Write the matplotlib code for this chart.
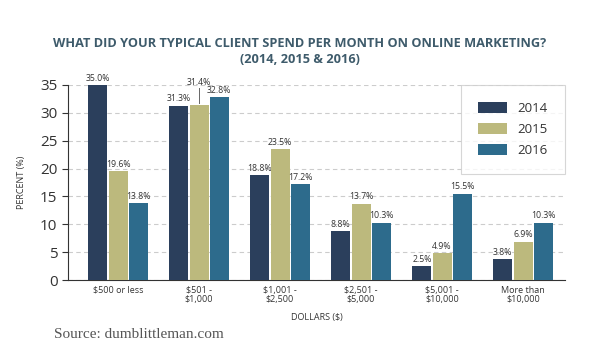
# Recreate: typical client monthly online marketing spend, 2014-2016

import numpy as np
import matplotlib.pyplot as plt

plt.rcParams['font.family'] = ['Open Sans', 'DejaVu Sans']

categories = ['$500 or less', '$501 -\n$1,000', '$1,001 -\n$2,500',
              '$2,501 -\n$5,000', '$5,001 -\n$10,000', 'More than\n$10,000']
years = ['2014', '2015', '2016']
v2014 = [35.0, 31.3, 18.8, 8.8, 2.5, 3.8]
v2015 = [19.6, 31.4, 23.5, 13.7, 4.9, 6.9]
v2016 = [13.8, 32.8, 17.2, 10.3, 15.5, 10.3]
colors = ['#2b3f5c', '#bcb97d', '#2d6b8c']

fig = plt.figure(figsize=(6, 3.6), dpi=100)
ax = fig.add_axes([0.113, 0.222, 0.829, 0.542])

x = np.arange(len(categories))
width = 0.235
step = 0.25
for i, (vals, yr, c) in enumerate(zip([v2014, v2015, v2016], years, colors)):
    pos = x + (i - 1) * step
    ax.bar(pos, vals, width, color=c, label=yr, zorder=3)
    for j, (p, v) in enumerate(zip(pos, vals)):
        if i == 1 and j == 1:
            # leader line for the crowded label
            ax.plot([p, p], [v + 0.3, v + 3.0], color='#666666', lw=0.7,
                    zorder=4, clip_on=False)
            ax.text(p, v + 3.2, f'{v:.1f}%', ha='center', va='bottom',
                    fontsize=6.3, color='#333333')
        else:
            ax.text(p, v + 0.4, f'{v:.1f}%', ha='center', va='bottom',
                    fontsize=6.3, color='#333333')

ax.set_ylim(0, 35)
ax.set_xlim(-0.62, 5.52)
ax.set_yticks(range(0, 36, 5))
ax.tick_params(axis='y', labelsize=11, colors='#333333', length=4, width=0.8)
ax.tick_params(axis='x', labelsize=6.5, colors='#333333', length=0, pad=4)
ax.set_xticks(x)
ax.set_xticklabels(categories, linespacing=1.1)
ax.yaxis.grid(True, linestyle=(0, (4, 3)), color='#cccccc', lw=0.8, zorder=0)
for s in ['top', 'right']:
    ax.spines[s].set_visible(False)
ax.spines['left'].set_color('#333333')
ax.spines['bottom'].set_color('#333333')
ax.set_ylabel('PERCENT (%)', fontsize=6.5, color='#333333', labelpad=10)
ax.set_xlabel('DOLLARS ($)', fontsize=6.5, color='#333333', labelpad=6)

leg = ax.legend(loc='upper right', bbox_to_anchor=(1.0, 1.0), fontsize=9.5,
                frameon=True, fancybox=False, edgecolor='#cccccc',
                handlelength=2.2, handleheight=0.9, borderpad=1.3,
                labelspacing=0.6, borderaxespad=0)
leg.get_frame().set_linewidth(0.8)
for t in leg.get_texts():
    t.set_color('#333333')

fig.text(0.5, 0.87, 'WHAT DID YOUR TYPICAL CLIENT SPEND PER MONTH ON ONLINE MARKETING?',
         ha='center', fontsize=9.2, fontweight='bold', color='#3e5b6b')
fig.text(0.5, 0.826, '(2014, 2015 & 2016)', ha='center', fontsize=9.2,
         fontweight='bold', color='#3e5b6b')
fig.text(0.09, 0.06, 'Source: dumblittleman.com', fontsize=11,
         family=['Liberation Serif', 'DejaVu Serif'], color='#555555')

fig.savefig('out.png', dpi=100)
